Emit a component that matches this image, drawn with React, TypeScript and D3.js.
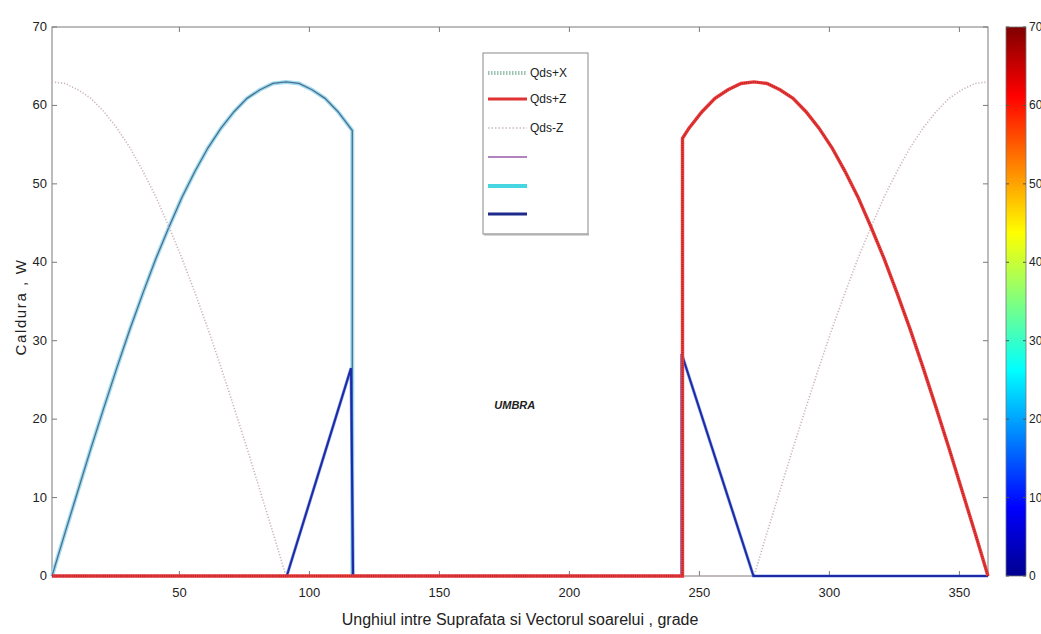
import React from "react";
import * as d3 from "d3";

// ---- data (x = sample index 1..361 along the angle axis, y = heat in W) ----
const xTicks = [50, 100, 150, 200, 250, 300, 350];
const yTicks = [0, 10, 20, 30, 40, 50, 60, 70];
const colorbarTicks = [0, 10, 20, 30, 40, 50, 60, 70];

const qdsPlusX: [number, number][] = [
  [1, 0], [6, 5.5], [11, 10.9], [16, 16.3], [21, 21.5], [26, 26.6], [31, 31.5], [36, 36.1],
  [41, 40.5], [46, 44.5], [51, 48.3], [56, 51.6], [61, 54.6], [66, 57.1], [71, 59.2],
  [76, 60.9], [81, 62.0], [86, 62.8], [91, 63.0], [96, 62.8], [101, 62.0], [106, 60.9],
  [111, 59.2], [116.5, 56.8], [116.5, 0],
];

const qdsPlusZ: [number, number][] = [
  [1, 0], [243.5, 0], [243.5, 55.8], [246, 57.1], [251, 59.2], [256, 60.9], [261, 62.0],
  [266, 62.8], [271, 63.0], [276, 62.8], [281, 62.0], [286, 60.9], [291, 59.2], [296, 57.1],
  [301, 54.6], [306, 51.6], [311, 48.3], [316, 44.5], [321, 40.5], [326, 36.1], [331, 31.5],
  [336, 26.6], [341, 21.5], [346, 16.3], [351, 10.9], [356, 5.5], [361, 0],
];

const qdsMinusZ: [number, number][] = [
  [1, 63.0], [6, 62.8], [11, 62.0], [16, 60.9], [21, 59.2], [26, 57.1], [31, 54.6], [36, 51.6],
  [41, 48.3], [46, 44.5], [51, 40.5], [56, 36.1], [61, 31.5], [66, 26.6], [71, 21.5],
  [76, 16.3], [81, 10.9], [86, 5.5], [91, 0], [271, 0], [276, 5.5], [281, 10.9], [286, 16.3],
  [291, 21.5], [296, 26.6], [301, 31.5], [306, 36.1], [311, 40.5], [316, 44.5], [321, 48.3],
  [326, 51.6], [331, 54.6], [336, 57.1], [341, 59.2], [346, 60.9], [351, 62.0], [356, 62.8],
  [361, 63.0],
];

const qdsBlue: [number, number][] = [
  [1, 0], [91.3, 0], [116, 26.5], [116.8, 0], [243.2, 0], [243.2, 28.3], [270.8, 0], [361, 0],
];

const legendLabels = ["Qds+X", "Qds+Z", "Qds-Z", "", "", ""];

// ---- layout ----
const W = 1041;
const H = 634;
const M = { left: 52, right: 988, top: 27, bottom: 576 };
const CB = { x0: 1006, x1: 1026 };
const FONT = "'Liberation Sans Narrow','Liberation Sans',Arial,sans-serif";

export default function App() {
  const x = d3.scaleLinear().domain([1, 361]).range([M.left, M.right]);
  const y = d3.scaleLinear().domain([0, 70]).range([M.bottom, M.top]);
  const cy = d3.scaleLinear().domain([0, 70]).range([M.bottom, M.top]);
  const line = d3
    .line<[number, number]>()
    .x((d) => x(d[0]))
    .y((d) => y(d[1]));

  const jet = [
    [0, "#00008f"],
    [0.125, "#0000ff"],
    [0.375, "#00ffff"],
    [0.625, "#ffff00"],
    [0.875, "#ff0000"],
    [1, "#800000"],
  ] as const;

  const axisColor = "#7a7a7a";
  const tickLen = 5;

  const legendX0 = 488;
  const legendX1 = 527;
  const legendRows = [73, 99, 128, 157, 186, 214];

  return (
    <div style={{ position: "fixed", left: 0, top: 0 }}>
      <svg width={W} height={H} style={{ display: "block", background: "#fff" }}>
        <defs>
          <linearGradient id="jet" x1="0" y1="1" x2="0" y2="0">
            {jet.map(([o, c]) => (
              <stop key={o} offset={o} stopColor={c} />
            ))}
          </linearGradient>
          <clipPath id="plotclip">
            <rect x={M.left - 2} y={M.top} width={M.right - M.left + 4} height={M.bottom - M.top + 2} />
          </clipPath>
        </defs>

        {/* axes box */}
        <rect
          x={M.left}
          y={M.top}
          width={M.right - M.left}
          height={M.bottom - M.top}
          fill="none"
          stroke={axisColor}
          strokeWidth={1}
        />
        {xTicks.map((t) => (
          <g key={"xt" + t}>
            <line x1={x(t)} x2={x(t)} y1={M.bottom} y2={M.bottom - tickLen} stroke={axisColor} />
            <line x1={x(t)} x2={x(t)} y1={M.top} y2={M.top + tickLen} stroke={axisColor} />
            <text
              x={x(t)}
              y={M.bottom + 21}
              textAnchor="middle"
              fontFamily={FONT}
              fontSize={13}
              fill="#222"
            >
              {t}
            </text>
          </g>
        ))}
        {yTicks.map((t) => (
          <g key={"yt" + t}>
            <line x1={M.left} x2={M.left + tickLen} y1={y(t)} y2={y(t)} stroke={axisColor} />
            <line x1={M.right} x2={M.right - tickLen} y1={y(t)} y2={y(t)} stroke={axisColor} />
            <text
              x={M.left - 5}
              y={y(t) + 4}
              textAnchor="end"
              fontFamily={FONT}
              fontSize={13}
              fill="#222"
            >
              {t}
            </text>
          </g>
        ))}

        {/* series */}
        <g clipPath="url(#plotclip)">
          {/* cyan halo + Qds+X core on left arc */}
          <path d={line(qdsPlusX) || ""} fill="none" stroke="#9fdcf2" strokeWidth={4} />
          <path d={line(qdsPlusX) || ""} fill="none" stroke="#4d6f8c" strokeWidth={1.3} />
          {/* Qds-Z dotted grey */}
          <path
            d={line(qdsMinusZ) || ""}
            fill="none"
            stroke="#c9b3bf"
            strokeWidth={1.6}
            strokeDasharray="1.2,1.8"
          />
          {/* dark blue */}
          <path d={line(qdsBlue) || ""} fill="none" stroke="#4a70d8" strokeWidth={3.2} opacity={0.6} />
          <path d={line(qdsBlue) || ""} fill="none" stroke="#1c2aa6" strokeWidth={2} />
          {/* red Qds+Z */}
          <path d={line(qdsPlusZ) || ""} fill="none" stroke="#ee3b3b" strokeWidth={3.4} />
          <path
            d={line(qdsPlusZ) || ""}
            fill="none"
            stroke="#a82222"
            strokeWidth={1.6}
            strokeDasharray="1,1.2"
          />
        </g>

        {/* UMBRA label */}
        <text
          x={x(179)}
          y={y(21.3)}
          textAnchor="middle"
          fontFamily="'Liberation Sans',Arial,sans-serif"
          fontSize={11}
          fontWeight="bold"
          fontStyle="italic"
          fill="#222"
        >
          UMBRA
        </text>

        {/* legend */}
        <rect x={483} y={53} width={105} height={181} fill="#fff" stroke="#8a8a8a" strokeWidth={1} />
        <line x1={484} x2={589} y1={234.5} y2={234.5} stroke="#b0b0b0" strokeWidth={2} />
        {legendRows.map((ry, i) => {
          const styles = [
            { stroke: "#9cc2b0", w: 4, dash: "1.5,1.5" },
            { stroke: "#e03232", w: 3, dash: undefined },
            { stroke: "#c6b8c6", w: 1.5, dash: "1.5,2" },
            { stroke: "#9a5aaa", w: 1.6, dash: undefined },
            { stroke: "#46d6e2", w: 4, dash: undefined },
            { stroke: "#1c2a8c", w: 3.2, dash: undefined },
          ][i];
          return (
            <g key={"lg" + i}>
              <line
                x1={legendX0}
                x2={legendX1}
                y1={ry}
                y2={ry}
                stroke={styles.stroke}
                strokeWidth={styles.w}
                strokeDasharray={styles.dash}
              />
              {legendLabels[i] && (
                <text x={530} y={ry + 4} fontFamily={FONT} fontSize={12} fill="#222">
                  {legendLabels[i]}
                </text>
              )}
            </g>
          );
        })}

        {/* colorbar */}
        <rect
          x={CB.x0}
          y={M.top}
          width={CB.x1 - CB.x0}
          height={M.bottom - M.top}
          fill="url(#jet)"
          stroke="#777"
          strokeWidth={0.8}
        />
        {colorbarTicks.map((t) => (
          <g key={"cb" + t}>
            <line x1={CB.x0} x2={CB.x0 + 3} y1={cy(t)} y2={cy(t)} stroke="#555" />
            <line x1={CB.x1} x2={CB.x1 - 3} y1={cy(t)} y2={cy(t)} stroke="#555" />
            <text x={CB.x1 + 3} y={cy(t) + 4} fontFamily={FONT} fontSize={12} fill="#222">
              {t}
            </text>
          </g>
        ))}

        {/* axis labels */}
        <text
          x={520}
          y={625}
          textAnchor="middle"
          fontFamily={FONT}
          fontSize={16}
          fill="#222"
        >
          Unghiul intre Suprafata si Vectorul soarelui , grade
        </text>
        <text
          transform={`translate(26, 307) rotate(-90)`}
          textAnchor="middle"
          fontFamily="'Liberation Sans',Arial,sans-serif"
          fontSize={15}
          letterSpacing={1.6}
          fill="#222"
        >
          Caldura , W
        </text>
      </svg>
    </div>
  );
}
